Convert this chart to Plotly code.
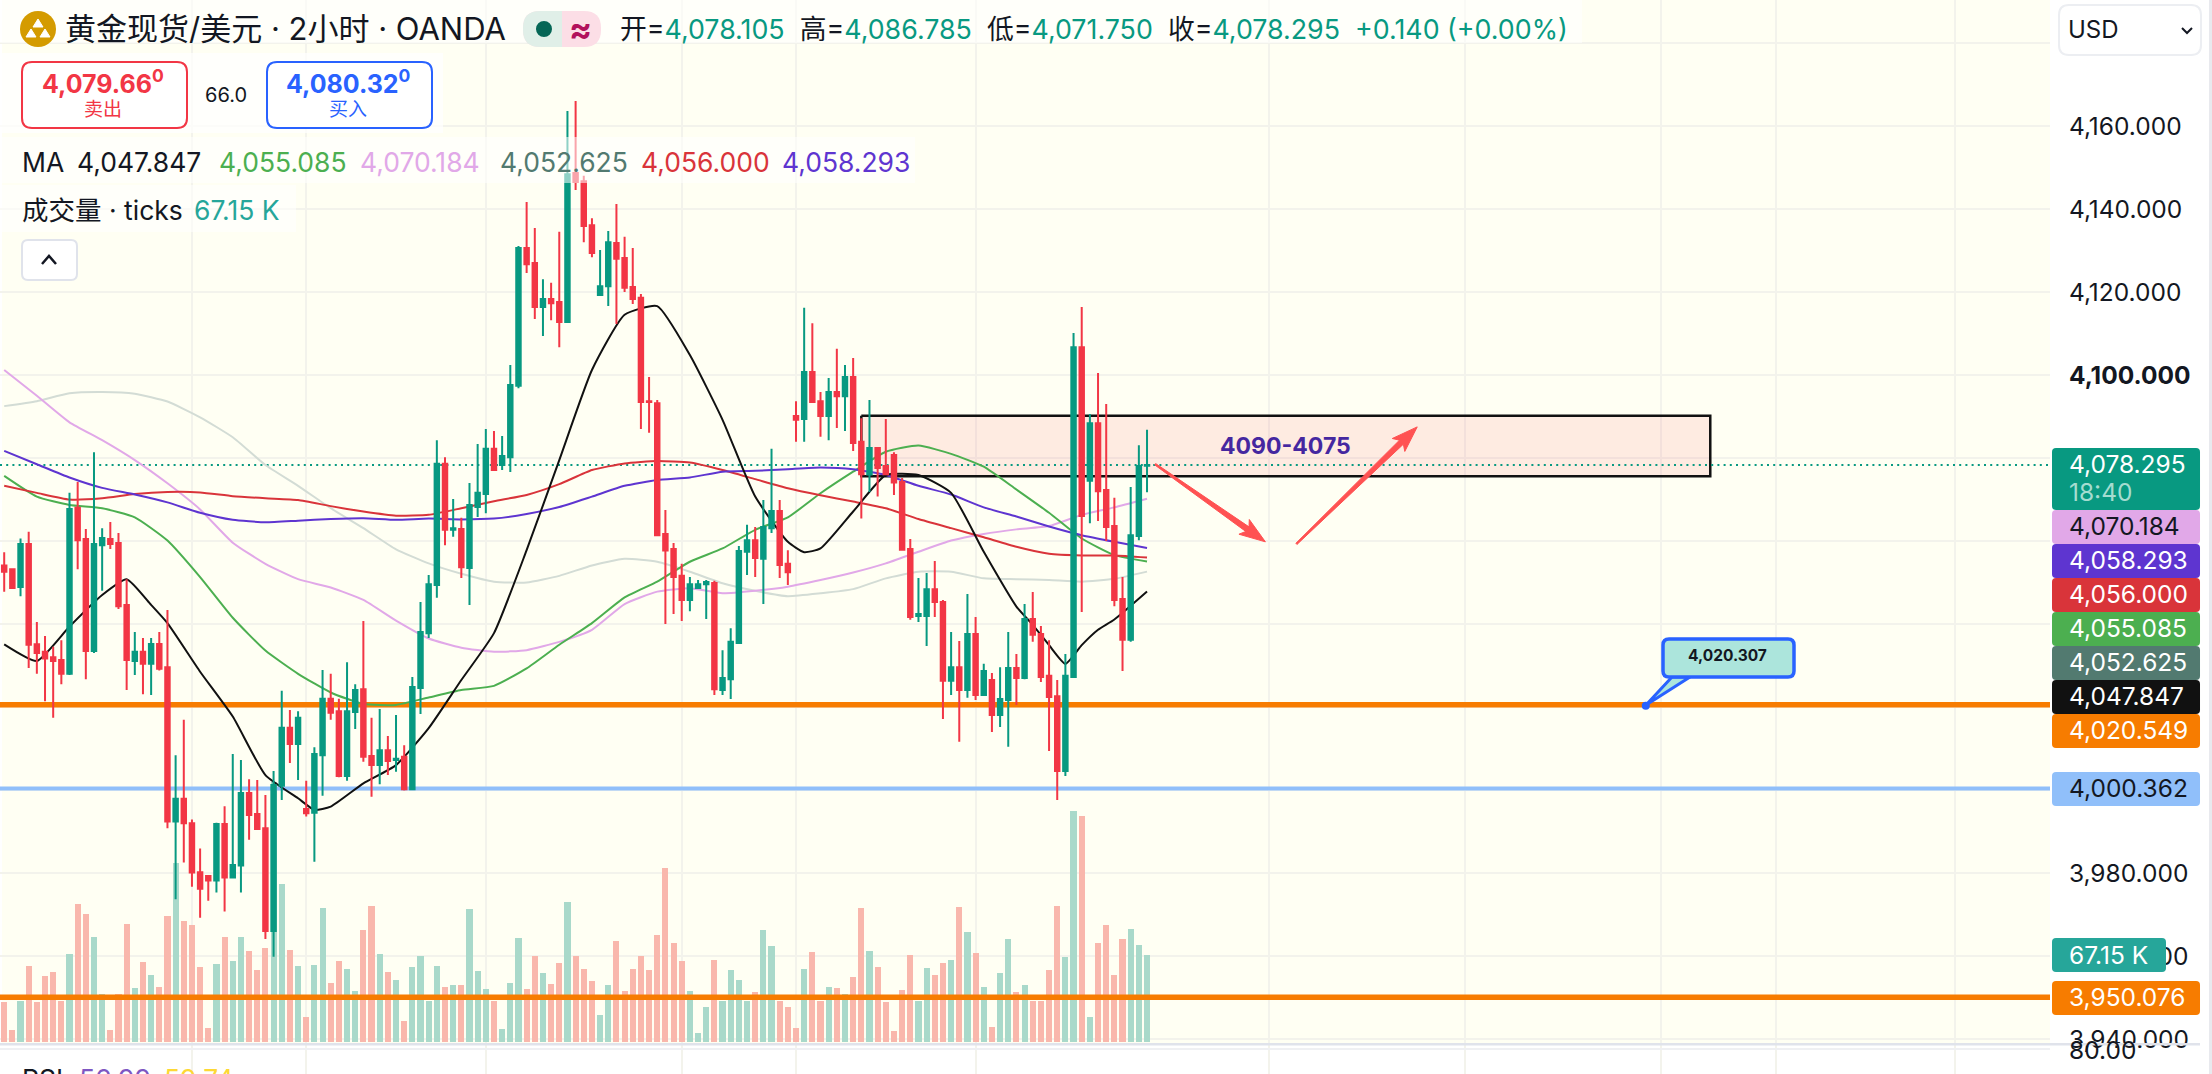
'''
    OANDA gold / USD 2h chart with MA ribbon, volume and drawn levels.
'''

import plotly.graph_objects as go

WIDTH = 2212
HEIGHT = 1074
FONT = "Inter, 'Noto Sans CJK SC', sans-serif"
GREEN = '#089981'
RED = '#F23645'
BLUE = '#2962FF'
INK = '#131722'

candle_open = [
    4054.1, 4053.2, 4048.9, 4059.3, 4035.1, 4033.3, 4032.0, 4031.3, 4028.0, 4068.0,
    4060.5, 4033.5, 4059.0, 4060.5, 4059.5, 4044.6, 4031.1, 4033.3, 4030.4, 4035.2,
    4029.6, 3992.4, 3997.9, 3992.0, 3980.2, 3979.3, 3978.2, 3991.8, 3978.9, 3981.8,
    3999.3, 3994.2, 3990.8, 3966.0, 4001.0, 4015.0, 4011.1, 3995.4, 3994.5, 4008.4,
    4022.0, 4019.0, 4003.4, 4018.8, 4024.3, 4008.2, 4006.0, 4009.6, 4007.2, 4008.0,
    4000.2, 4024.6, 4037.8, 4049.4, 4078.6, 4062.7, 4062.9, 4053.5, 4068.2, 4071.3,
    4082.2, 4078.3, 4080.2, 4097.4, 4130.6, 4127.0, 4116.4, 4118.3, 4117.6, 4112.8,
    4148.7, 4146.7, 4136.1, 4119.3, 4121.4, 4131.8, 4128.2, 4121.2, 4118.6, 4093.7,
    4093.2, 4061.7, 4058.1, 4051.6, 4045.8, 4048.7, 4049.6, 4049.9, 4024.1, 4026.7,
    4035.4, 4057.4, 4060.2, 4055.7, 4063.1, 4067.2, 4054.5, 4090.1, 4089.4, 4100.7,
    4093.7, 4090.1, 4095.9, 4094.9, 4099.5, 4083.9, 4076.0, 4082.4, 4078.1, 4080.7,
    4074.2, 4058.1, 4041.9, 4041.9, 4048.4, 4045.3, 4026.3, 4029.6, 4024.1, 4037.6,
    4022.9, 4026.5, 4018.1, 4021.7, 4029.4, 4027.0, 4041.2, 4037.6, 4027.5, 4022.6,
    4004.6, 4027.2, 4106.7, 4074.5, 4088.4, 4072.3, 4063.6, 4046.0, 4036.2, 4061.2,
    4078.105,
]
candle_high = [
    4057.3, 4053.2, 4060.6, 4062.2, 4040.5, 4037.1, 4034.5, 4036.1, 4071.6, 4074.2,
    4062.9, 4081.4, 4063.1, 4064.6, 4061.9, 4050.8, 4038.1, 4036.6, 4036.6, 4038.1,
    4043.4, 4008.4, 4016.9, 3992.9, 3985.9, 3979.3, 3992.1, 3996.1, 4008.7, 4007.2,
    4002.6, 4002.4, 3998.8, 4004.6, 4023.9, 4019.3, 4019.0, 4002.2, 4010.3, 4028.9,
    4028.0, 4022.0, 4030.8, 4025.5, 4040.7, 4017.4, 4019.5, 4013.0, 4018.1, 4010.8,
    4027.2, 4045.3, 4051.8, 4084.3, 4080.2, 4070.1, 4065.6, 4074.0, 4083.4, 4087.0,
    4086.5, 4085.3, 4102.4, 4131.1, 4141.7, 4135.4, 4123.1, 4122.2, 4134.5, 4163.6,
    4166.0, 4148.0, 4137.8, 4130.1, 4134.7, 4141.2, 4133.3, 4130.6, 4119.5, 4099.5,
    4094.0, 4067.5, 4059.5, 4054.5, 4051.3, 4050.6, 4050.6, 4050.4, 4033.7, 4039.0,
    4058.8, 4063.9, 4063.4, 4069.9, 4082.2, 4069.9, 4057.8, 4093.7, 4116.2, 4112.5,
    4095.9, 4099.3, 4106.3, 4102.4, 4104.1, 4089.6, 4094.0, 4082.4, 4089.4, 4081.4,
    4075.2, 4060.5, 4051.1, 4052.3, 4055.2, 4045.8, 4038.1, 4035.9, 4047.2, 4041.7,
    4030.4, 4028.2, 4029.6, 4038.1, 4032.8, 4044.8, 4047.7, 4039.5, 4036.1, 4026.5,
    4032.8, 4110.1, 4116.4, 4090.6, 4100.5, 4093.0, 4070.4, 4051.3, 4073.0, 4083.1,
    4086.785,
]
candle_low = [
    4047.8, 4048.5, 4046.7, 4029.4, 4028.0, 4021.4, 4017.4, 4025.5, 4027.7, 4053.2,
    4026.7, 4033.0, 4048.0, 4058.1, 4043.6, 4024.1, 4027.7, 4023.1, 4022.9, 4028.8,
    3990.8, 3973.7, 3982.5, 3976.7, 3969.2, 3973.3, 3975.3, 3970.7, 3978.9, 3975.3,
    3988.0, 3990.6, 3964.1, 3959.8, 3997.6, 4006.5, 4002.4, 3993.6, 3982.7, 3998.6,
    4016.9, 4003.1, 4002.2, 4014.7, 4006.8, 3998.4, 4001.4, 4003.6, 4004.4, 3999.9,
    4000.2, 4018.3, 4036.6, 4046.3, 4059.0, 4061.0, 4051.1, 4044.6, 4065.8, 4066.7,
    4076.9, 4077.1, 4076.6, 4096.8, 4124.6, 4113.5, 4109.4, 4113.2, 4106.7, 4112.8,
    4144.6, 4132.0, 4128.4, 4119.3, 4116.6, 4112.3, 4120.0, 4117.1, 4087.0, 4086.1,
    4061.2, 4040.0, 4042.4, 4040.7, 4043.1, 4048.7, 4041.2, 4022.9, 4022.9, 4021.9,
    4035.2, 4051.8, 4051.3, 4044.8, 4061.9, 4051.1, 4049.4, 4083.9, 4083.9, 4093.5,
    4085.1, 4084.3, 4087.2, 4086.5, 4081.7, 4065.4, 4071.8, 4070.7, 4075.9, 4071.1,
    4057.7, 4041.0, 4040.5, 4034.7, 4041.7, 4017.1, 4022.9, 4011.6, 4022.2, 4021.7,
    4022.7, 4014.0, 4015.2, 4010.4, 4020.5, 4026.7, 4035.7, 4026.0, 4009.4, 3997.6,
    4003.4, 4027.2, 4042.9, 4064.3, 4064.8, 4060.0, 4044.3, 4028.7, 4035.7, 4060.2,
    4071.750,
]
candle_close = [
    4052.6, 4048.7, 4059.3, 4035.0, 4033.0, 4031.7, 4031.1, 4028.0, 4067.7, 4060.2,
    4033.5, 4059.3, 4060.7, 4059.3, 4044.3, 4031.3, 4033.3, 4030.4, 4035.2, 4029.2,
    3992.4, 3997.9, 3992.0, 3980.1, 3976.2, 3978.2, 3991.8, 3978.9, 3981.9, 3999.3,
    3994.0, 3990.6, 3966.0, 4001.2, 4015.0, 4011.1, 4017.4, 3994.4, 4008.7, 4022.0,
    4018.6, 4003.4, 4019.0, 4024.1, 4008.0, 4006.0, 4009.6, 4007.0, 4007.5, 4000.2,
    4024.8, 4038.1, 4049.6, 4078.6, 4062.7, 4063.1, 4053.7, 4068.7, 4071.6, 4082.2,
    4077.1, 4080.5, 4097.6, 4130.6, 4126.7, 4116.4, 4118.3, 4117.3, 4112.8, 4148.4,
    4146.5, 4135.9, 4129.4, 4121.4, 4132.0, 4128.0, 4121.0, 4118.3, 4093.5, 4093.5,
    4061.4, 4057.7, 4051.3, 4045.8, 4049.6, 4049.6, 4050.1, 4024.3, 4027.0, 4035.7,
    4057.6, 4060.2, 4055.9, 4063.4, 4067.2, 4054.2, 4052.5, 4089.2, 4100.7, 4093.5,
    4090.1, 4095.9, 4094.9, 4099.5, 4083.6, 4076.1, 4082.4, 4077.6, 4076.1, 4074.1,
    4057.9, 4041.7, 4042.4, 4048.4, 4045.3, 4026.3, 4029.6, 4024.1, 4037.6, 4022.9,
    4028.7, 4018.1, 4021.9, 4029.4, 4027.0, 4041.2, 4037.4, 4027.2, 4022.4, 4004.6,
    4027.5, 4106.7, 4066.0, 4088.4, 4072.0, 4063.4, 4045.8, 4036.2, 4061.4, 4078.1,
    4078.295,
]
volume_k = [
    31.1, 9.3, 31.9, 58.7, 30.9, 50.9, 54.0, 31.9, 67.9, 106.5,
    98.8, 81.0, 37.1, 9.3, 37.1, 91.1, 41.7, 61.8, 51.7, 42.5,
    97.3, 138.2, 93.4, 90.3, 57.9, 10.8, 60.2, 81.0, 62.5, 81.0,
    70.2, 55.6, 72.6, 201.0, 122.0, 71.0, 58.7, 19.3, 59.4, 103.4,
    45.5, 62.5, 56.3, 39.4, 86.5, 105.0, 67.9, 54.0, 47.9, 16.2,
    57.9, 66.4, 31.9, 58.7, 42.5, 44.0, 44.0, 102.7, 54.8, 40.9,
    31.9, 10.0, 45.5, 80.3, 40.9, 66.4, 53.3, 44.8, 61.0, 108.1,
    66.4, 56.3, 47.1, 20.8, 44.0, 78.0, 39.4, 56.3, 66.4, 55.6,
    82.6, 134.3, 76.4, 62.5, 39.4, 6.9, 27.0, 63.3, 31.9, 55.6,
    47.9, 31.9, 38.6, 86.5, 74.1, 31.9, 27.0, 10.8, 56.3, 69.5,
    31.9, 42.5, 41.7, 37.1, 50.2, 103.4, 70.2, 57.9, 30.9, 8.5,
    40.1, 67.2, 31.9, 57.1, 51.7, 61.0, 63.3, 104.2, 84.9, 68.7,
    42.5, 11.6, 53.3, 79.5, 38.6, 44.0, 31.9, 31.9, 55.6, 105.0,
    65.6, 178.3, 174.5, 19.3, 76.4, 90.3, 51.7, 79.5, 87.2, 74.9,
    67.15,
]

# moving averages, read every 4th bar
ma_index = list(range(0, 141, 4))
ma_green = [
    4075.7, 4070.7, 4068.7, 4067.9, 4065.7, 4060.1, 4051.3, 4041.5, 4033.6, 4028.0,
    4023.5, 4020.7, 4020.5, 4022.3, 4024.1, 4025.1, 4029.3, 4035.0, 4040.2, 4046.4,
    4050.2, 4055.0, 4058.2, 4062.7, 4065.7, 4071.5, 4076.7, 4081.5, 4083.0, 4081.0,
    4077.9, 4072.4, 4066.8, 4060.6, 4056.6, 4055.085,
]
ma_pink = [
    4101.2, 4095.0, 4088.6, 4084.3, 4079.5, 4073.9, 4067.6, 4059.6, 4054.5, 4050.8,
    4048.8, 4045.8, 4040.8, 4036.5, 4034.3, 4033.3, 4033.7, 4035.7, 4038.6, 4044.8,
    4047.8, 4048.6, 4047.4, 4048.0, 4049.0, 4050.6, 4052.4, 4054.6, 4057.4, 4060.1,
    4061.7, 4062.8, 4063.6, 4066.3, 4068.1, 4070.184,
]
ma_gray = [
    4092.5, 4093.7, 4095.6, 4095.9, 4095.5, 4093.6, 4089.8, 4085.0, 4078.3, 4073.3,
    4067.9, 4063.1, 4058.0, 4054.6, 4052.1, 4050.2, 4050.0, 4051.6, 4054.1, 4055.7,
    4055.0, 4052.6, 4049.8, 4048.0, 4046.7, 4047.4, 4048.4, 4051.0, 4052.6, 4052.6,
    4051.0, 4050.8, 4050.6, 4050.2, 4050.9, 4052.625,
]
ma_red = [
    4073.3, 4071.6, 4070.0, 4070.3, 4071.3, 4071.8, 4071.7, 4070.8, 4070.3, 4069.9,
    4068.4, 4067.1, 4066.1, 4066.3, 4067.9, 4069.6, 4071.1, 4073.7, 4077.1, 4078.7,
    4079.3, 4078.9, 4077.1, 4074.9, 4072.7, 4071.0, 4069.5, 4067.9, 4065.3, 4063.1,
    4060.9, 4058.6, 4056.9, 4056.5, 4056.5, 4056.000,
]
ma_purple = [
    4081.7, 4078.5, 4075.3, 4072.8, 4071.2, 4069.3, 4066.8, 4065.1, 4064.5, 4064.9,
    4065.3, 4065.5, 4065.1, 4065.4, 4065.2, 4065.4, 4066.5, 4068.2, 4070.7, 4073.3,
    4074.7, 4075.3, 4076.7, 4076.9, 4077.3, 4077.7, 4077.3, 4075.9, 4073.3, 4071.2,
    4068.1, 4065.9, 4063.5, 4061.4, 4059.8, 4058.293,
]
# the fast average turns sharply, so it gets extra readings at the turns
ma_black_index = [
    0, 4, 8, 12, 15, 18, 20, 24, 28, 32, 36, 38, 40, 44, 48, 52, 56, 60, 64, 68, 72, 76, 80, 84, 88,
    92, 96, 98, 100, 104, 108, 112, 116, 120, 124, 126, 128, 130, 132, 134, 136, 140,
]
ma_black = [
    4035.1, 4031.1, 4039.4, 4047.0, 4050.8, 4044.6, 4040.2, 4028.5, 4017.7, 4003.6,
    3998.0, 3995.2, 3996.0, 4001.6, 4006.0, 4014.9, 4026.5, 4037.8, 4057.8, 4079.5,
    4101.2, 4114.5, 4116.6, 4104.8, 4089.2, 4070.7, 4059.8, 4057.3, 4058.2, 4067.1,
    4075.9, 4075.9, 4071.6, 4057.4, 4044.2, 4039.8, 4034.9, 4030.4, 4034.9, 4038.6,
    4041.1, 4047.847,
]

price_ticks = [4180, 4160, 4140, 4120, 4100, 4080, 4060, 4040, 4020, 4000, 3980, 3960, 3940]
time_grid = [23, 37, 59, 83, 97, 119, 155, 179, 203, 217, 239]

last_price = 4078.295
level_upper = 4020.549
level_round = 4000.362
level_lower = 3950.076
zone_bars = [105, 209]
zone_prices = [4090.2, 4075.6]
arrow_down = [(141, 4078.5), (154.5, 4059.8)]
arrow_up = [(158.3, 4059.3), (173.1, 4087.5)]
callout_anchor = (201.1, 4020.307)

# price tags on the right scale: top, bottom, fill, text colour, text
price_tags = [
    (510, 544, '#E1A8E8', INK, '4,070.184'),
    (544, 578, '#5E35D0', 'white', '4,058.293'),
    (578, 612, '#D9343A', 'white', '4,056.000'),
    (612, 646, '#4CAF50', 'white', '4,055.085'),
    (646, 680, '#527A70', 'white', '4,052.625'),
    (680, 714, '#111111', 'white', '4,047.847'),
    (714, 748, '#F77C00', 'white', '4,020.549'),
    (772, 806, '#90BFFA', INK, '4,000.362'),
    (981, 1015, '#F77C00', 'white', '3,950.076'),
]
ma_legend = [
    (76, INK, '4,047.847'),
    (218, '#4CAF50', '4,055.085'),
    (359, '#E1A8E8', '4,070.184'),
    (499, '#527A70', '4,052.625'),
    (640, '#D9343A', '4,056.000'),
    (781, '#5E35D0', '4,058.293'),
]

# pixel mapping of the chart, kept in one place
PLOT_RIGHT = 2050
BAR_STEP = 8.163
BAR_ZERO = 4.2
PRICE_STEP = 4.15
x_range = [-BAR_ZERO / BAR_STEP, (PLOT_RIGHT - BAR_ZERO) / BAR_STEP]
price_range = [4100 - (HEIGHT - 375) / PRICE_STEP, 4100 + 375 / PRICE_STEP]
volume_range = [-24.7, 804.4]
LEGEND_SIZE = 26.5
SCALE_SIZE = 24.5


def px(x):
    return round(x / WIDTH, 5)


def py(y):
    return round(1 - y / HEIGHT, 5)


def rounded(x0, y0, x1, y1, r):
    rx, ry = r / WIDTH, r / HEIGHT
    a, b, c, d = x0 / WIDTH, 1 - y0 / HEIGHT, x1 / WIDTH, 1 - y1 / HEIGHT
    return (
        f'M {a + rx:.5f} {b:.5f} L {c - rx:.5f} {b:.5f} Q {c:.5f} {b:.5f} {c:.5f} {b - ry:.5f} '
        f'L {c:.5f} {d + ry:.5f} Q {c:.5f} {d:.5f} {c - rx:.5f} {d:.5f} '
        f'L {a + rx:.5f} {d:.5f} Q {a:.5f} {d:.5f} {a:.5f} {d + ry:.5f} '
        f'L {a:.5f} {b - ry:.5f} Q {a:.5f} {b:.5f} {a + rx:.5f} {b:.5f} Z'
    )


def poly(points, close=True):
    parts = [f'{"M" if n == 0 else "L"} {x / WIDTH:.5f} {1 - y / HEIGHT:.5f}' for n, (x, y) in enumerate(points)]
    return ' '.join(parts) + (' Z' if close else '')


def box(fig, x0, y0, x1, y1, fill, line=None, line_width=2, r=0):
    fig.add_shape(
        type='path', path=rounded(x0, y0, x1, y1, r), xref='paper', yref='paper', layer='above',
        fillcolor=fill, line=dict(color=line or 'rgba(0,0,0,0)', width=line_width if line else 0),
    )


def stroke(fig, points, color, width, fill='rgba(0,0,0,0)', close=False):
    fig.add_shape(
        type='path', path=poly(points, close), xref='paper', yref='paper', layer='above',
        fillcolor=fill, line=dict(color=color, width=width),
    )


def label(fig, x, y, text, size, color=INK, anchor='left'):
    fig.add_annotation(
        x=px(x), y=py(y), xref='paper', yref='paper', text=text, showarrow=False,
        xanchor=anchor, yanchor='middle', borderpad=0, font=dict(family=FONT, size=size, color=color),
    )


def arrow_outline(tail, tip):
    # tapered marker arrow, built in pixels and mapped back to bars and price
    dx = (tip[0] - tail[0]) * BAR_STEP
    dy = -(tip[1] - tail[1]) * PRICE_STEP
    length = (dx * dx + dy * dy) ** 0.5
    ux, uy = dx / length, dy / length
    nx, ny = -uy, ux
    neck = length - 22

    def at(along, side):
        return (
            tail[0] + (ux * along + nx * side) / BAR_STEP,
            tail[1] - (uy * along + ny * side) / PRICE_STEP,
        )

    outline = [
        at(0, -0.8), at(neck, -2.8), at(neck - 4, -9), at(length, 0),
        at(neck - 4, 9), at(neck, 2.8), at(0, 0.8), at(0, -0.8),
    ]
    return [p[0] for p in outline], [p[1] for p in outline]


def add_chart(fig):
    up_flags = [c >= o for o, c in zip(candle_open, candle_close)]
    fig.add_trace(go.Bar(
        x=list(range(len(volume_k))), y=volume_k, width=0.75, yaxis='y',
        marker=dict(color=['#A9D9CA' if up else '#F9B7AC' for up in up_flags], line_width=0),
        name='成交量',
    ))

    on_price = dict(yaxis='y2', hoverinfo='skip')
    fig.add_trace(go.Scatter(
        x=[zone_bars[0], zone_bars[1], zone_bars[1], zone_bars[0], zone_bars[0]],
        y=[zone_prices[0], zone_prices[0], zone_prices[1], zone_prices[1], zone_prices[0]],
        mode='lines', fill='toself', fillcolor='rgba(242,54,69,0.10)',
        line=dict(color='#111111', width=2.5), **on_price,
    ))
    for level, color, width in [
        (level_upper, '#F77C00', 5.5),
        (level_lower, '#F77C00', 5.5),
        (level_round, '#90BFFA', 4),
    ]:
        fig.add_trace(go.Scatter(x=x_range, y=[level, level], mode='lines', line=dict(color=color, width=width), **on_price))
    fig.add_trace(go.Scatter(
        x=x_range, y=[last_price, last_price], mode='lines',
        line=dict(color=GREEN, width=2, dash='2px,4.2px'), **on_price,
    ))

    for xs, values, color in [
        (ma_index, ma_gray, '#D3DCD5'),
        (ma_index, ma_pink, '#E1A8E8'),
        (ma_index, ma_green, '#4CAF50'),
        (ma_index, ma_red, '#D9343A'),
        (ma_index, ma_purple, '#5E35D0'),
        (ma_black_index, ma_black, '#111111'),
    ]:
        fig.add_trace(go.Scatter(
            x=xs, y=values, mode='lines',
            line=dict(color=color, width=2, shape='spline', smoothing=0.5), **on_price,
        ))

    for tail, tip in [arrow_down, arrow_up]:
        xs, ys = arrow_outline(tail, tip)
        fig.add_trace(go.Scatter(
            x=xs, y=ys, mode='lines', fill='toself', fillcolor='#FF5252',
            line=dict(color='#FF5252', width=1), **on_price,
        ))
    fig.add_trace(go.Scatter(
        x=[callout_anchor[0]], y=[callout_anchor[1]], mode='markers',
        marker=dict(color=BLUE, size=8), **on_price,
    ))

    fig.add_trace(go.Candlestick(
        x=list(range(len(candle_open))),
        open=candle_open, high=candle_high, low=candle_low, close=candle_close,
        yaxis='y3', whiskerwidth=0,
        increasing=dict(line=dict(color=GREEN, width=2), fillcolor=GREEN),
        decreasing=dict(line=dict(color=RED, width=2), fillcolor=RED),
        name='XAUUSD',
    ))


def add_header(fig):
    box(fig, 0, 0, 1582, 43, 'rgba(255,255,255,0.55)')
    box(fig, 0, 53, 443, 133, 'rgba(255,255,255,0.7)')
    box(fig, 0, 137, 915, 183, 'rgba(255,255,255,0.55)')
    box(fig, 0, 185, 296, 232, 'rgba(255,255,255,0.55)')

    # logo
    fig.add_shape(
        type='circle', xref='paper', yref='paper', layer='above',
        x0=px(20), x1=px(56), y0=py(47), y1=py(11), fillcolor='#D49B00', line_width=0,
    )
    stroke(fig, [(38, 19), (43, 27), (33, 27)], 'white', 1, fill='white', close=True)
    stroke(fig, [(31, 29), (36, 37), (26, 37)], 'white', 1, fill='white', close=True)
    stroke(fig, [(45, 29), (50, 37), (40, 37)], 'white', 1, fill='white', close=True)
    label(fig, 64, 29, '黄金现货/美元 · 2小时 · OANDA', 31)

    # market status pill
    box(fig, 523, 11, 601, 47, '#FCDEE6', r=17)
    fig.add_shape(
        type='path', xref='paper', yref='paper', layer='above', line_width=0, fillcolor='#E0EFE8',
        path=(
            f'M {px(562)} {py(11)} L {px(540)} {py(11)} Q {px(523)} {py(11)} {px(523)} {py(28)} '
            f'L {px(523)} {py(30)} Q {px(523)} {py(47)} {px(540)} {py(47)} L {px(562)} {py(47)} Z'
        ),
    )
    fig.add_shape(
        type='circle', xref='paper', yref='paper', layer='above',
        x0=px(536), x1=px(552), y0=py(37), y1=py(21), fillcolor='#056656', line_width=0,
    )
    label(fig, 580, 29, '<b>≈</b>', 34, '#B2115C', 'center')

    value = f'<span style="color:{GREEN}">%s</span>'
    label(fig, 619, 29, (
        f'开={value % "4,078.105"}  高={value % "4,086.785"}  低={value % "4,071.750"}  '
        f'收={value % "4,078.295"}  {value % "+0.140 (+0.00%)"}'
    ), 26.8)

    # bid / ask
    box(fig, 22, 62, 187, 128, 'white', RED, 2, 10)
    box(fig, 267, 62, 432, 128, 'white', BLUE, 2, 10)
    label(fig, 103, 82, '<b>4,079.66<sup>0</sup></b>', 25, RED, 'center')
    label(fig, 103, 110, '卖出', 19, RED, 'center')
    label(fig, 226, 95, '66.0', 20, INK, 'center')
    label(fig, 348, 82, '<b>4,080.32<sup>0</sup></b>', 25, BLUE, 'center')
    label(fig, 348, 110, '买入', 19, BLUE, 'center')

    # indicator legends
    label(fig, 21, 162, 'MA', LEGEND_SIZE)
    for x, color, text in ma_legend:
        label(fig, x, 162, text, LEGEND_SIZE, color)
    label(fig, 21, 210, '成交量 · ticks', LEGEND_SIZE)
    label(fig, 193, 210, '67.15 K', LEGEND_SIZE, '#26A69A')

    box(fig, 22, 240, 77, 280, 'white', '#E0E3EB', 2, 6)
    stroke(fig, [(42, 264), (49, 256), (56, 264)], INK, 2.5)


def add_price_scale(fig):
    box(fig, 2059, 5, 2201, 55, 'white', '#ECEEF2', 2, 10)
    label(fig, 2067, 30, 'USD', 24)
    stroke(fig, [(2182, 28), (2187, 33), (2192, 28)], INK, 2)

    box(fig, 2052, 448, 2200, 510, GREEN, r=4)
    label(fig, 2068, 464, '4,078.295', SCALE_SIZE, 'white')
    label(fig, 2068, 492, '18:40', SCALE_SIZE, '#A5DCD0')
    for top, bottom, fill, color, text in price_tags:
        box(fig, 2052, top, 2200, bottom, fill, r=4)
        label(fig, 2068, (top + bottom) / 2 - 1, text, SCALE_SIZE, color)
    box(fig, 2052, 938, 2166, 972, '#26A69A', r=4)
    label(fig, 2068, 955, '67.15 K', SCALE_SIZE, 'white')

    # callout on the upper level
    stroke(fig, [(1646, 705), (1672, 677), (1690, 677)], BLUE, 3, fill='#ACE5DC', close=True)
    box(fig, 1663, 639, 1794, 677, '#ACE5DC', BLUE, 3.5, 6)
    label(fig, 1728, 656, '<b>4,020.307</b>', 15.5, INK, 'center')

    label(fig, 1286, 446, '<b>4090-4075</b>', 23, '#4527A0', 'center')

    # pane separator and the cut-off RSI pane below it
    box(fig, 0, 1043, 2200, 1045.5, '#E0E3EB')
    box(fig, 0, 1048, 2050, 1050, '#EFF0F3')
    label(fig, 2068, 1050, '80.00', SCALE_SIZE)
    label(fig, 21, 1079, 'RSI', LEGEND_SIZE)
    label(fig, 78, 1079, '56.99', LEGEND_SIZE, '#7E57C2')
    label(fig, 163, 1079, '59.74', LEGEND_SIZE, '#FDD835')


def main():
    fig = go.Figure()
    add_chart(fig)

    fig.add_shape(
        type='rect', xref='paper', yref='paper', layer='below',
        x0=px(2), x1=px(PLOT_RIGHT), y0=py(1043), y1=1, fillcolor='#FFFFF3', line_width=0,
    )
    fig.add_shape(
        type='rect', xref='paper', yref='paper', layer='below',
        x0=px(2209), x1=1, y0=0, y1=1, fillcolor='#E8E9EE', line_width=0,
    )
    add_header(fig)
    add_price_scale(fig)

    grid = '#F3F3EC'
    fig.update_layout(
        width=WIDTH, height=HEIGHT,
        margin=dict(l=0, r=0, t=0, b=0),
        paper_bgcolor='white', plot_bgcolor='white',
        showlegend=False, bargap=0, boxgap=0.22,
        font=dict(family=FONT, color=INK),
        xaxis=dict(
            domain=[0, PLOT_RIGHT / WIDTH], range=x_range, rangeslider=dict(visible=False),
            tickmode='array', tickvals=time_grid, showticklabels=False, ticks='',
            showgrid=True, gridcolor=grid, gridwidth=2, zeroline=False, showline=False,
        ),
        yaxis=dict(range=volume_range, visible=False, showgrid=False, zeroline=False),
        yaxis2=dict(
            range=price_range, overlaying='y', side='right', anchor='x',
            tickmode='array', tickvals=price_ticks,
            ticktext=[
                f'<b>{v:,.3f}</b>' if v == 4100 else f'{v:,.3f}' for v in price_ticks
            ],
            tickfont=dict(family=FONT, size=SCALE_SIZE, color=INK),
            ticks='outside', ticklen=13, tickcolor='rgba(0,0,0,0)',
            showgrid=True, gridcolor=grid, gridwidth=2, zeroline=False, showline=False,
        ),
        yaxis3=dict(range=price_range, overlaying='y', visible=False, showgrid=False, zeroline=False),
    )

    fig.write_html(
        'out.html', config=dict(displayModeBar=False),
        post_script="document.body.style.margin='0';",
    )


if __name__ == '__main__':
    main()
